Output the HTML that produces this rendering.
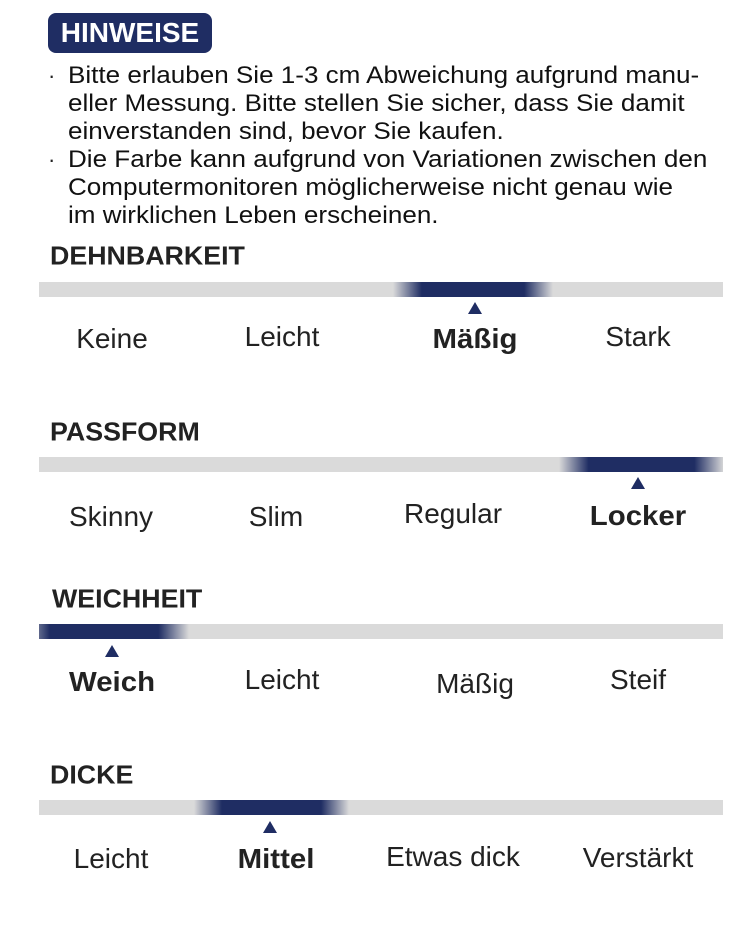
<!DOCTYPE html>
<html><head><meta charset="utf-8"><style>
body{margin:0;width:750px;height:928px;background:#fff;position:relative;overflow:hidden;font-family:"Liberation Sans",sans-serif;color:#222}
.a{position:absolute}
.hdr{left:48px;top:13px;width:164px;height:40px;background:#1f2d63;border-radius:8px;color:#fff;font-weight:bold;font-size:28px;line-height:40px;text-align:center}
.ln{left:68px;font-size:24px;line-height:28px;white-space:nowrap;color:#111;transform:scaleX(1.085);transform-origin:0 0}
.bu{left:48px;font-size:22px;line-height:28px}
.t{left:50px;font-size:26px;font-weight:bold;color:#222;transform:translateY(-50%) scaleX(1.03);transform-origin:0 50%}
.bar{left:39px;width:684px;height:15px;background:#dadada;overflow:hidden}
.hl{position:absolute;top:0;height:15px;background:linear-gradient(to right,rgba(31,45,99,0),#1f2d63 18%,#1f2d63 82%,rgba(31,45,99,0))}
.tri{width:0;height:0;border-left:7px solid transparent;border-right:7px solid transparent;border-bottom:12px solid #1f2d63;transform:translateX(-50%)}
.l{font-size:28px;transform:translate(-50%,-50%);white-space:nowrap;color:#222}
.b{font-weight:bold;transform:translate(-50%,-50%) scaleX(1.05)}
</style></head><body>
<div class="a hdr">HINWEISE</div>
<div class="a bu" style="top:62px">·</div>
<div class="a ln" style="top:62px">Bitte erlauben Sie 1-3 cm Abweichung aufgrund manu-</div>
<div class="a ln" style="top:90px">eller Messung. Bitte stellen Sie sicher, dass Sie damit</div>
<div class="a ln" style="top:118px">einverstanden sind, bevor Sie kaufen.</div>
<div class="a bu" style="top:146px">·</div>
<div class="a ln" style="top:146px">Die Farbe kann aufgrund von Variationen zwischen den</div>
<div class="a ln" style="top:174px">Computermonitoren möglicherweise nicht genau wie</div>
<div class="a ln" style="top:202px">im wirklichen Leben erscheinen.</div>

<div class="a t" style="top:256px">DEHNBARKEIT</div>
<div class="a bar" style="top:282px"><div class="hl" style="left:354px;width:160px"></div></div>
<div class="a tri" style="left:475px;top:302px"></div>
<div class="a l" style="left:112px;top:339px">Keine</div>
<div class="a l" style="left:282px;top:337px">Leicht</div>
<div class="a l b" style="left:475px;top:339px">Mäßig</div>
<div class="a l" style="left:638px;top:337px">Stark</div>

<div class="a t" style="top:432px">PASSFORM</div>
<div class="a bar" style="top:457px"><div class="hl" style="left:520px;width:165px"></div></div>
<div class="a tri" style="left:638px;top:477px"></div>
<div class="a l" style="left:111px;top:517px">Skinny</div>
<div class="a l" style="left:276px;top:517px">Slim</div>
<div class="a l" style="left:453px;top:514px">Regular</div>
<div class="a l b" style="left:638px;top:516px">Locker</div>

<div class="a t" style="top:599px;left:52px">WEICHHEIT</div>
<div class="a bar" style="top:624px"><div class="hl" style="left:-20px;width:170px"></div></div>
<div class="a tri" style="left:112px;top:645px"></div>
<div class="a l b" style="left:112px;top:682px">Weich</div>
<div class="a l" style="left:282px;top:680px">Leicht</div>
<div class="a l" style="left:475px;top:684px">Mäßig</div>
<div class="a l" style="left:638px;top:680px">Steif</div>

<div class="a t" style="top:775px">DICKE</div>
<div class="a bar" style="top:800px"><div class="hl" style="left:155px;width:155px"></div></div>
<div class="a tri" style="left:270px;top:821px"></div>
<div class="a l" style="left:111px;top:859px">Leicht</div>
<div class="a l b" style="left:276px;top:859px">Mittel</div>
<div class="a l" style="left:453px;top:857px">Etwas dick</div>
<div class="a l" style="left:638px;top:858px">Verstärkt</div>
</body></html>
